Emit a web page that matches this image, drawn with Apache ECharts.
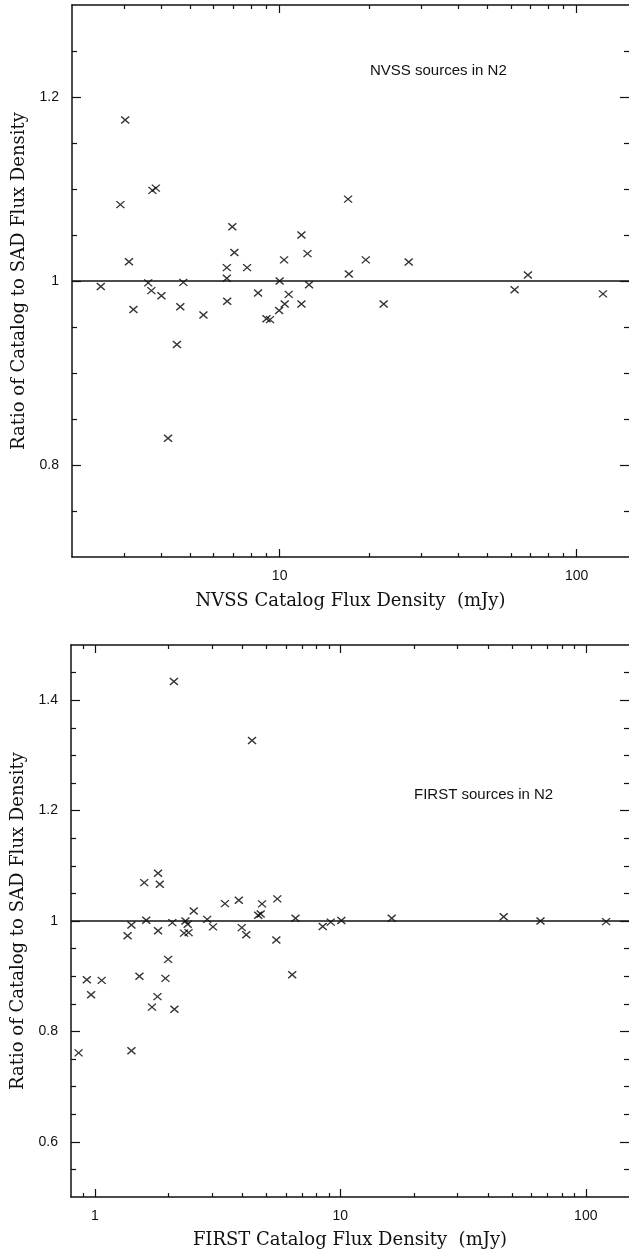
<!DOCTYPE html>
<html>
<head>
<meta charset="utf-8">
<script src="https://cdn.jsdelivr.net/npm/echarts@6/dist/echarts.min.js"></script>
<style>
html,body{margin:0;padding:0;background:#fff;}
#chart{width:629px;height:1255px;}
</style>
</head>
<body>
<div id="chart"></div>
<script>
// ---- Data ----
const nvssFlux = [2.50, 3.02, 2.91, 3.11, 3.22, 3.73, 3.83, 3.61, 3.70, 4.00, 4.21, 4.51, 4.63, 4.74, 5.54, 6.64, 6.64, 6.66, 6.93, 7.04, 7.77, 8.46, 9.03, 9.28, 9.96, 10.0, 10.4, 10.35, 10.73, 11.84, 11.84, 12.41, 12.56, 17.0, 17.1, 19.5, 22.4, 27.2, 61.8, 68.5, 122.6];
const nvssRatio = [0.994, 1.175, 1.083, 1.021, 0.969, 1.0985, 1.101, 0.998, 0.9895, 0.984, 0.829, 0.931, 0.972, 0.9985, 0.963, 1.0145, 1.003, 0.978, 1.059, 1.031, 1.0145, 0.987, 0.959, 0.958, 0.968, 1.0, 0.975, 1.023, 0.9855, 1.050, 0.975, 1.0297, 0.996, 1.089, 1.0076, 1.023, 0.975, 1.0206, 0.9905, 1.0065, 0.986];

const firstFlux = [4.37, 1.81, 1.59, 1.84, 1.62, 1.41, 1.36, 1.81, 2.07, 1.99, 1.52, 1.94, 1.80, 0.928, 1.067, 0.966, 2.34, 2.31, 2.41, 2.39, 2.53, 2.87, 3.03, 3.39, 3.86, 3.97, 4.14, 4.63, 4.74, 4.80, 5.54, 5.49, 6.57, 6.37, 8.48, 9.14, 10.1, 0.859, 1.41, 2.11, 1.71, 16.2, 46.3, 65.4, 121, 2.10];
const firstRatio = [1.327, 1.0865, 1.0695, 1.0665, 1.0013, 0.9927, 0.9734, 0.9824, 0.997, 0.9305, 0.900, 0.896, 0.863, 0.8936, 0.8925, 0.8664, 1.0, 0.978, 0.979, 0.994, 1.018, 1.003, 0.9894, 1.0314, 1.0375, 0.988, 0.975, 1.0103, 1.0127, 1.031, 1.040, 0.9655, 1.005, 0.9026, 0.990, 0.998, 1.001, 0.761, 0.765, 0.840, 0.844, 1.005, 1.0078, 1.0, 0.9988, 1.434];

const topXMajor = [10, 100];
const topXMinor = [3, 4, 5, 6, 7, 8, 9, 20, 30, 40, 50, 60, 70, 80, 90];
const topYMajor = [0.8, 1.0, 1.2];
const topYMinor = [0.75, 0.85, 0.9, 0.95, 1.05, 1.1, 1.15, 1.25];

const botXMajor = [1, 10, 100];
const botXMinor = [0.9, 2, 3, 4, 5, 6, 7, 8, 9, 20, 30, 40, 50, 60, 70, 80, 90];
const botYMajor = [0.6, 0.8, 1.0, 1.2, 1.4];
const botYMinor = [0.55, 0.65, 0.7, 0.75, 0.85, 0.9, 0.95, 1.05, 1.1, 1.15, 1.25, 1.3, 1.35, 1.45];

const topXLabel = 'NVSS Catalog Flux Density  (mJy)';
const botXLabel = 'FIRST Catalog Flux Density  (mJy)';
const yLabel = 'Ratio of Catalog to SAD Flux Density';
const topNote = 'NVSS sources in N2';
const botNote = 'FIRST sources in N2';

// ---- Chart ----
const INK = '#111';
const serif = '"DejaVu Serif", serif';
const sans = '"Liberation Sans", Arial, sans-serif';

function xAxes(grid, min, max, major, minor, name, gap) {
  const base = {
    type: 'log', logBase: 10, gridIndex: grid, min: min, max: max,
    splitLine: {show: false}, minorTick: {show: false}
  };
  return [
    Object.assign({}, base, {
      position: 'bottom',
      axisLine: {show: true, onZero: false, lineStyle: {color: INK, width: 1.5}},
      axisTick: {show: true, inside: true, length: 8, customValues: major, lineStyle: {color: INK, width: 1.2}},
      axisLabel: {show: true, customValues: major, margin: 12, color: INK, fontFamily: sans, fontSize: 14},
      name: name, nameLocation: 'middle', nameGap: gap,
      nameTextStyle: {fontFamily: serif, fontSize: 18, color: INK}
    }),
    Object.assign({}, base, {
      position: 'bottom',
      axisLine: {show: false, onZero: false},
      axisTick: {show: true, inside: true, length: 4, customValues: minor, lineStyle: {color: INK, width: 1.2}},
      axisLabel: {show: false}
    }),
    Object.assign({}, base, {
      position: 'top',
      axisLine: {show: true, onZero: false, lineStyle: {color: INK, width: 1.5}},
      axisTick: {show: true, inside: true, length: 8, customValues: major, lineStyle: {color: INK, width: 1.2}},
      axisLabel: {show: false}
    }),
    Object.assign({}, base, {
      position: 'top',
      axisLine: {show: false, onZero: false},
      axisTick: {show: true, inside: true, length: 4, customValues: minor, lineStyle: {color: INK, width: 1.2}},
      axisLabel: {show: false}
    })
  ];
}

function yAxes(grid, min, max, major, minor) {
  const base = {type: 'value', gridIndex: grid, min: min, max: max, splitLine: {show: false}};
  return [
    Object.assign({}, base, {
      position: 'left',
      axisLine: {show: true, onZero: false, lineStyle: {color: INK, width: 1.5}},
      axisTick: {show: true, inside: true, length: 9, customValues: major, lineStyle: {color: INK, width: 1.2}},
      axisLabel: {show: true, customValues: major, margin: 13, color: INK, fontFamily: sans, fontSize: 14},
      name: yLabel, nameLocation: 'middle', nameGap: 44, nameRotate: 90,
      nameTextStyle: {fontFamily: serif, fontSize: 18, color: INK}
    }),
    Object.assign({}, base, {
      position: 'left',
      axisLine: {show: false, onZero: false},
      axisTick: {show: true, inside: true, length: 5, customValues: minor, lineStyle: {color: INK, width: 1.2}},
      axisLabel: {show: false}
    }),
    Object.assign({}, base, {
      position: 'right',
      axisLine: {show: false, onZero: false},
      axisTick: {show: true, inside: true, length: 9, customValues: major, lineStyle: {color: INK, width: 1.2}},
      axisLabel: {show: false}
    }),
    Object.assign({}, base, {
      position: 'right',
      axisLine: {show: false, onZero: false},
      axisTick: {show: true, inside: true, length: 5, customValues: minor, lineStyle: {color: INK, width: 1.2}},
      axisLabel: {show: false}
    })
  ];
}

function zip(xs, ys) { return xs.map((x, i) => [x, ys[i]]); }

const crossSymbol = 'path://M0,0L10,10M10,0L0,10';

function scatter(xIdx, yIdx, data) {
  return {
    type: 'scatter', xAxisIndex: xIdx, yAxisIndex: yIdx, data: data,
    symbol: crossSymbol, symbolSize: [8, 7],
    itemStyle: {color: 'transparent', borderColor: '#000', borderWidth: 1.35},
    silent: true,
    markLine: {
      silent: true, symbol: ['none', 'none'], label: {show: false},
      lineStyle: {color: INK, width: 1.5, type: 'solid'},
      data: [{yAxis: 1}]
    }
  };
}

const option = {
  backgroundColor: '#fff',
  animation: false,
  grid: [
    {left: 72, right: -1, top: 5, height: 552},
    {left: 71, right: -3, top: 645, height: 552}
  ],
  xAxis: [].concat(
    xAxes(0, 2, 150, topXMajor, topXMinor, topXLabel, 35),
    xAxes(1, 0.8, 150, botXMajor, botXMinor, botXLabel, 34)
  ),
  yAxis: [].concat(
    yAxes(0, 0.7, 1.3, topYMajor, topYMinor),
    yAxes(1, 0.5, 1.5, botYMajor, botYMinor)
  ),
  series: [
    scatter(0, 0, zip(nvssFlux, nvssRatio)),
    scatter(4, 4, zip(firstFlux, firstRatio))
  ],
  graphic: [
    {type: 'text', left: 370, top: 63, style: {text: topNote, font: '15px "Liberation Sans", Arial, sans-serif', fill: INK}},
    {type: 'text', left: 414, top: 787, style: {text: botNote, font: '15px "Liberation Sans", Arial, sans-serif', fill: INK}}
  ]
};

const chart = echarts.init(document.getElementById('chart'), null, {renderer: 'canvas'});
chart.setOption(option);
</script>
</body>
</html>
